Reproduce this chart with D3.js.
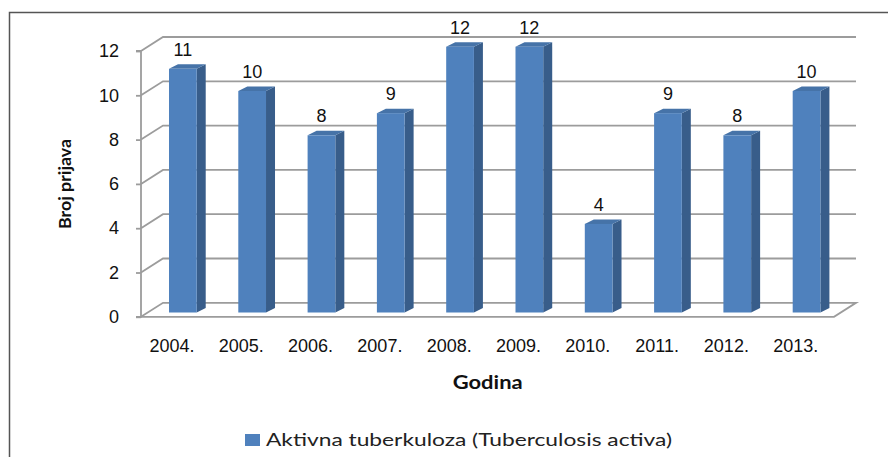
<!DOCTYPE html>
<html><head><meta charset="utf-8">
<script src="https://cdn.jsdelivr.net/npm/d3@7"></script>
<style>body{margin:0;background:#fff}svg{display:block}</style>
</head><body>
<svg id="c" width="888" height="457"></svg>
<script>
const years = ["2004.","2005.","2006.","2007.","2008.","2009.","2010.","2011.","2012.","2013."];
const values = [11,10,8,9,12,12,4,9,8,10];
const yTicks = [0,2,4,6,8,10,12];
const seriesName = "Aktivna tuberkuloza (Tuberculosis activa)";
const xTitle = "Godina";
const yTitle = "Broj prijava";

const svg = d3.select("#c");
const DX = 22, DY = -14;           // wall depth
const bDX = 9, bDY = -4.5;         // bar depth
const x = d3.scaleBand().domain(years).range([141, 834]).padding(0);
const y = d3.scaleLinear().domain([0,12]).range([316.8, 51]);
const yb = v => y(v) - 4.3;
const bw = x.bandwidth()*0.4;
const grid = "#9c9c9c";

// outer frame
svg.append("rect").attr("x",9.5).attr("y",12.5).attr("width",900).attr("height",500)
  .attr("fill","none").attr("stroke","#555").attr("stroke-width",1.5);

// floor
const x0 = x.range()[0], x1 = x.range()[1];
svg.append("path").attr("d",`M${x0},${y(0)}L${x0+DX},${y(0)+DY}L${x1+DX},${y(0)+DY}L${x1},${y(0)}Z`)
  .attr("fill","none").attr("stroke",grid).attr("stroke-width",1.8);

// gridlines on back wall
svg.selectAll(".g").data(yTicks.filter(t=>t>0)).join("path")
  .attr("d",t=>`M${x0},${y(t)}L${x0+DX},${y(t)+DY}L${x1+DX},${y(t)+DY}`)
  .attr("fill","none").attr("stroke",grid).attr("stroke-width",1.8);

// y axis
const yAxis = d3.axisLeft(y).tickValues(yTicks).tickSize(5).tickPadding(17);
const ga = svg.append("g").attr("transform",`translate(${x0},0)`).call(yAxis);
ga.select(".domain").attr("stroke",grid).attr("stroke-width",1.8).attr("d",`M-5,${y(12)}H0V${y(0)}H-5`);
ga.selectAll(".tick line").attr("stroke",grid).attr("stroke-width",1.8);
ga.selectAll(".tick text").attr("font-family","Liberation Sans, Arial, sans-serif").attr("font-size",18).attr("fill","#111");

// bars
const bars = svg.selectAll(".bar").data(years.map((c,i)=>({c,v:values[i]}))).join("g");
bars.each(function(d){
  const g = d3.select(this);
  const l = x(d.c) + x.bandwidth()*0.404, r = l + bw, t = yb(d.v), b = yb(0);
  g.append("path").attr("d",`M${r},${t}L${r+bDX},${t+bDY}L${r+bDX},${b+bDY}L${r},${b}Z`).attr("fill","#385d8a");
  g.append("path").attr("d",`M${l},${t}L${l+bDX},${t+bDY}L${r+bDX},${t+bDY}L${r},${t}Z`).attr("fill","#4673a8");
  g.append("rect").attr("x",l).attr("y",t).attr("width",bw).attr("height",b-t).attr("fill","#4f81bd");
  g.append("text").attr("x",l+bw/2).attr("y",t-13).attr("text-anchor","middle")
    .attr("font-family","Liberation Sans, Arial, sans-serif").attr("font-size",18).attr("fill","#111").text(d.v);
});

// x labels
svg.selectAll(".xl").data(years).join("text")
  .attr("x",d=>x(d)+x.bandwidth()*0.447).attr("y",352).attr("text-anchor","middle")
  .attr("font-family","Liberation Sans, Arial, sans-serif").attr("font-size",18).attr("fill","#111").text(d=>d);

// titles
svg.append("text").attr("transform","translate(71,184) rotate(-90)").attr("text-anchor","middle")
  .attr("font-family","Lato, sans-serif").attr("font-weight","bold").attr("font-size",17)
  .attr("textLength",90).attr("lengthAdjust","spacingAndGlyphs").attr("fill","#111").text(yTitle);
svg.append("text").attr("x",487.7).attr("y",389).attr("text-anchor","middle")
  .attr("font-family","Lato, sans-serif").attr("font-weight","bold").attr("font-size",18)
  .attr("textLength",70).attr("lengthAdjust","spacingAndGlyphs").attr("fill","#111").text(xTitle);

// legend
svg.append("rect").attr("x",245).attr("y",434).attr("width",15).attr("height",12).attr("fill","#4f81bd");
svg.append("text").attr("x",266).attr("y",446)
  .attr("font-family","Lato, sans-serif").attr("font-size",18)
  .attr("textLength",406).attr("lengthAdjust","spacingAndGlyphs").attr("fill","#222").text(seriesName);
</script>
</body></html>
